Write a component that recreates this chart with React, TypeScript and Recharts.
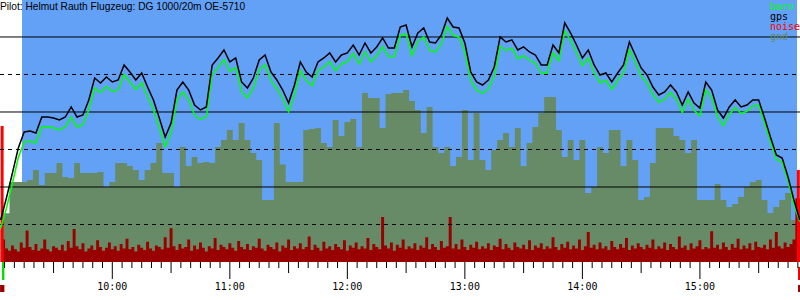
import { ComposedChart, Area, Line, XAxis, YAxis, ReferenceLine, ReferenceArea } from 'recharts'

// minutes after 9:00 of the first sample, and spacing of the noise samples
const START = 3
const STEP = 1.5

// gps / baro / ground altitude [m], one value every 3 minutes (every 2nd noise sample)
const gps = [
  560, 860, 1187, 1520, 1733, 1747, 1720, 1933, 1933, 1920,
  1893, 1933, 2067, 1933, 1960, 2160, 2453, 2387, 2467, 2400,
  2427, 2627, 2533, 2427, 2520, 2333, 2160, 1920, 1667, 1853,
  2293, 2400, 2293, 2093, 2027, 2067, 2627, 2720, 2827, 2667,
  2720, 2400, 2320, 2453, 2693, 2760,
  2533, 2427, 2293, 2120, 2360, 2667, 2533, 2467, 2667, 2720,
  2787, 2667, 2760, 2787, 2893, 2760, 2920, 2787, 2867, 2987,
  2853, 2853, 3133, 3160, 2867, 3053, 3120, 2933, 2920, 3027,
  3253, 3133, 3120, 2920, 2533, 2400, 2360, 2427, 2600, 3000,
  2933, 2960, 2827, 2867, 2800,
  2760, 2627, 2627, 2893, 2787, 3187, 3053, 2893, 2720, 2827,
  2627, 2493, 2520, 2400, 2520, 2627, 2933, 2760, 2587, 2493,
  2333, 2227, 2267, 2360, 2267, 2093, 2267, 2120, 2053, 2400,
  2293, 2027, 1920, 2067, 2160, 2067, 2093, 2160, 2160, 1920,
  1667, 1427, 1387, 1133, 827,
  560,
]

const baro = [
  450, 720, 1050, 1390, 1600, 1610, 1590, 1800, 1800, 1790,
  1760, 1800, 1930, 1800, 1830, 2030, 2320, 2260, 2340, 2270,
  2300, 2500, 2400, 2300, 2390, 2200, 2030, 1790, 1540, 1720,
  2160, 2270, 2160, 1960, 1900, 1940, 2500, 2590, 2700, 2540,
  2590, 2270, 2190, 2320, 2560, 2630,
  2420, 2310, 2180, 2000, 2240, 2550, 2420, 2350, 2550, 2600,
  2670, 2550, 2640, 2670, 2780, 2640, 2800, 2670, 2750, 2870,
  2740, 2740, 3020, 3040, 2750, 2940, 3000, 2820, 2800, 2910,
  3140, 3020, 3000, 2800, 2420, 2290, 2250, 2310, 2480, 2880,
  2820, 2850, 2710, 2750, 2690,
  2650, 2520, 2520, 2790, 2680, 3080, 2950, 2790, 2620, 2720,
  2520, 2390, 2420, 2300, 2420, 2520, 2830, 2660, 2480, 2390,
  2230, 2130, 2170, 2260, 2170, 1990, 2170, 2020, 1950, 2300,
  2190, 1930, 1820, 1970, 2060, 1980, 2010, 2080, 2090, 1850,
  1600, 1370, 1330, 1080, 760,
  540,
]

const gnd = [
  600, 650, 1067, 1067, 1067, 1093, 1227, 1027, 1187, 1187,
  1320, 1133, 1120, 1320, 1187, 1187, 1187, 1200, 1000, 1067,
  1320, 1320, 1280, 1227, 1093, 1227, 1320, 1587, 1187, 1187,
  1000, 1533, 1280, 1400, 1320, 1333, 1320, 1533, 1627, 1760,
  1627, 1853, 1627, 1453, 1360, 827,
  827, 1853, 1300, 1067, 1067, 1067, 1760, 1773, 1787, 1587,
  1533, 1893, 1680, 1867, 1907, 1533, 2253, 2187, 2187, 1787,
  2240, 2253, 2253, 2293, 2147, 2027, 1720, 2067, 1533, 1453,
  1533, 1280, 1400, 2027, 1360, 1987, 1360, 1227, 1493, 1627,
  1720, 1533, 1787, 1280, 1587,
  1800, 1987, 2200, 2200, 1760, 1400, 1627, 1360, 1627, 920,
  1000, 1533, 1453, 1760, 1760, 1280, 1627, 1360, 827, 867,
  1320, 1787, 1787, 1787, 1680, 1627, 1453, 1627, 827, 827,
  827, 1040, 827, 733, 773, 867, 1000, 1067, 1093, 827,
  653, 733, 827, 920, 560,
  560,
]

// noise level, one value every 1.5 minutes
const noise = [
  430, 300, 180, 150, 220, 170, 140, 260, 190, 420, 200, 160, 240, 150, 180, 300, 170, 140, 210, 190,
  160, 230, 150, 280, 190, 440, 210, 170, 250, 140, 180, 220, 160, 290, 200, 150, 190, 260, 170, 210,
  150, 240, 180, 310, 170, 200, 140, 230, 190, 160, 270, 180, 150, 220, 200, 170, 330, 190, 450, 210,
  160, 240, 180, 200, 300, 150, 220, 170, 260, 190, 140, 210, 180, 320, 160, 230, 200, 170, 250, 190,
  150, 280, 200, 170, 240, 160, 210, 190, 310, 180, 150, 230, 200, 170, 260, 140, 220, 190, 300, 160,
  210, 180, 250, 170, 200, 340, 160, 230, 190, 150, 270, 180, 210, 160, 240, 200, 170, 290, 150, 220,
  190, 260, 170, 210, 180, 320, 160, 240, 200, 170, 600, 220, 180, 260, 150, 230, 190, 300, 170, 210,
  180, 250, 160, 220, 190, 330, 170, 240, 200, 160, 280, 190, 210, 600, 180, 240, 170, 300, 200, 160,
  230, 190, 270, 170, 210, 180, 250, 160, 220, 200, 310, 170, 240, 190, 160, 260, 200, 180, 230, 170,
  290, 160, 220, 190, 250, 170, 210, 180, 330, 200, 160, 240, 190, 270, 170, 220, 180, 300, 160, 210,
  400, 190, 230, 170, 260, 180, 210, 160, 280, 200, 170, 240, 190, 320, 160, 220, 180, 250, 200, 170,
  230, 190, 300, 170, 210, 180, 260, 160, 240, 200, 170, 340, 190, 220, 160, 250, 180, 210, 290, 170,
  200, 180, 410, 190, 230, 170, 260, 200, 160, 240, 190, 310, 170, 220, 180, 250, 160, 270, 200, 190,
  230, 170, 300, 190, 400, 210, 180, 260, 200, 240, 300, 850, 850,
]

// engine / tow noise peaks at take-off and landing (noise sample index -> level)
const enginePeakIdx = [0, 1, 271, 272]
const enginePeakVal = [1813, 1813, 1227, 1227]

// take-off / landing markers under the time axis (minutes after 9:00)
const takeoff = [3.7, 4.9]
const landing = [410.1, 411.1]

const legendItems = [
  { name: 'baro', color: '#00ff00' },
  { name: 'gps', color: '#000000' },
  { name: 'noise', color: '#ff0000' },
  { name: 'gnd', color: '#668b66' },
]

const title = 'Pilot: Helmut Rauth Flugzeug: DG 1000/20m OE-5710'

const data = noise.map((n, k) => {
  const e = enginePeakIdx.indexOf(k)
  return {
    t: START + k * STEP,
    noise: n,
    engine: e >= 0 ? enginePeakVal[e] : null,
    gps: k % 2 === 0 ? gps[k / 2] : null,
    baro: k % 2 === 0 ? baro[k / 2] : null,
    gnd: k % 2 === 0 ? gnd[k / 2] : null,
  }
})

const xTicks: number[] = []
for (let m = 5; m <= 410; m += 5) xTicks.push(m)

const monoFont = '"DejaVu Sans Mono", monospace'
const sansFont = '"Liberation Sans", Arial, sans-serif'

const XTick = ({ x, y, payload }: any) => {
  const m = payload.value
  const len = m % 60 === 0 ? 17 : m % 30 === 0 ? 11 : 6
  return (
    <g>
      <line x1={x} x2={x} y1={y} y2={y + len} stroke="#000" strokeWidth={1} />
      {m % 60 === 0 && (
        <text x={x} y={y + 28} textAnchor="middle" fontSize={10} fontFamily={monoFont} fill="#000">
          {`${9 + m / 60}:00`}
        </text>
      )}
    </g>
  )
}

const YTick = ({ y, payload }: any) => (
  <text x={0} y={y + 10} fontSize={10} fontFamily={sansFont} fill="#000">
    {payload.value}
  </text>
)

export default function App() {
  return (
    <div style={{ position: 'absolute', left: 0, top: 0, width: 800, height: 300, background: '#fff' }}>
      <ComposedChart width={800} height={300} data={data} margin={{ top: 0, right: 0, bottom: 0, left: 0 }}>
        <XAxis
          dataKey="t"
          type="number"
          domain={[2.66, 411.1]}
          allowDataOverflow
          ticks={xTicks}
          interval={0}
          tick={<XTick />}
          tickLine={false}
          axisLine={false}
          tickSize={0}
          tickMargin={0}
          height={38}
        />
        <YAxis
          type="number"
          domain={[0, 3493]}
          allowDataOverflow
          ticks={[1000, 2000, 3000]}
          tick={<YTick />}
          tickLine={false}
          axisLine={false}
          width={0}
        />
        <ReferenceArea x1={13.9} x2={409.6} y1={0} y2={3493} fill="#63a1f7" fillOpacity={1} stroke="none" zIndex={-50} />
        <Area dataKey="gnd" type="step" connectNulls fill="#668b66" fillOpacity={1} stroke="none" isAnimationActive={false} dot={false} activeDot={false} />
        <Area dataKey="noise" type="step" fill="#990000" fillOpacity={1} stroke="none" isAnimationActive={false} dot={false} activeDot={false} />
        <Area dataKey="engine" type="step" fill="#ff0000" fillOpacity={1} stroke="none" isAnimationActive={false} dot={false} activeDot={false} />
        {[500, 1500, 2500].map((v) => (
          <ReferenceLine key={v} y={v} stroke="#000" strokeDasharray="4 4" />
        ))}
        {[1000, 2000, 3000].map((v) => (
          <ReferenceLine key={v} y={v} stroke="#000" />
        ))}
        <Line dataKey="baro" type="linear" connectNulls stroke="#00ff00" strokeWidth={1.5} dot={false} activeDot={false} isAnimationActive={false} />
        <Line dataKey="gps" type="linear" connectNulls stroke="#000000" strokeWidth={1.5} dot={false} activeDot={false} isAnimationActive={false} />
        <ReferenceArea x1={takeoff[0]} x2={takeoff[1]} y1={-240} y2={0} ifOverflow="visible" fill="#00dd00" fillOpacity={1} stroke="none" />
        <ReferenceArea x1={takeoff[0] - 1} x2={takeoff[1]} y1={-400} y2={-307} ifOverflow="visible" fill="#990000" fillOpacity={1} stroke="none" />
        <ReferenceArea x1={landing[0]} x2={landing[1]} y1={-240} y2={-67} ifOverflow="visible" fill="#ee0000" fillOpacity={1} stroke="none" />
        <ReferenceArea x1={landing[0]} x2={landing[1]} y1={-400} y2={-307} ifOverflow="visible" fill="#990000" fillOpacity={1} stroke="none" />
      </ComposedChart>
      <svg width={800} height={300} style={{ position: 'absolute', left: 0, top: 0, pointerEvents: 'none' }}>
        <text x={0} y={10} fontSize={10.2} fontFamily={sansFont} fill="#000">
          {title}
        </text>
        {legendItems.map((it, i) => (
          <text key={it.name} x={770} y={10 + i * 10} fontSize={10} fontFamily={monoFont} fill={it.color}>
            {it.name}
          </text>
        ))}
      </svg>
    </div>
  )
}
